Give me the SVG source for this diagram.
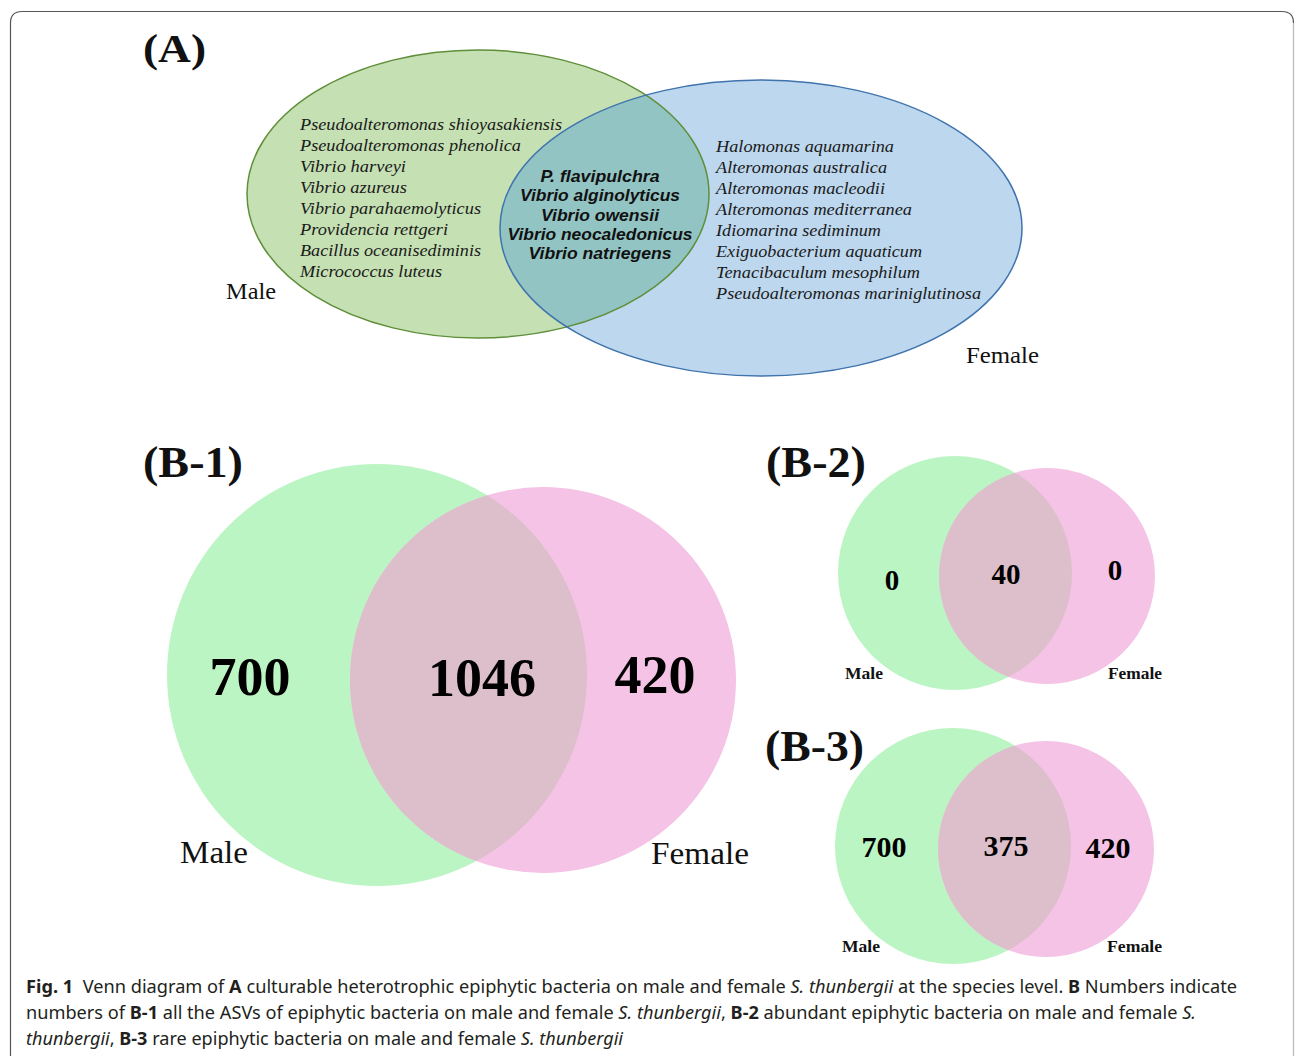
<svg xmlns="http://www.w3.org/2000/svg" width="1295" height="1056" viewBox="0 0 1295 1056">
<style>
.sp{font-family:"Liberation Serif",serif;font-style:italic;font-size:17px;fill:#1a1a1a}
.bi{font-family:"Liberation Sans",Arial,sans-serif;font-style:italic;font-weight:bold;font-size:17px;fill:#111;text-anchor:middle}
.lab{font-family:"Liberation Serif",serif;font-weight:bold;fill:#111}
.num{font-family:"Liberation Serif",serif;font-weight:bold;fill:#000;text-anchor:middle}
.sx{font-family:"Liberation Serif",serif;fill:#111}
.cap{font-family:"Noto Sans","Open Sans",sans-serif;font-size:18px;fill:#231f20}
.b{font-weight:bold}
.i{font-style:italic}
.g{fill:#bcf5c4}
.p{fill:#f5c3e6}
.o{fill:#dcbfcb}
</style>
<defs>
<clipPath id="cA"><ellipse cx="478" cy="194" rx="231" ry="144"/></clipPath>
<clipPath id="c1"><ellipse cx="377" cy="675" rx="210" ry="211"/></clipPath>
<clipPath id="c2"><circle cx="955" cy="573" r="117"/></clipPath>
<clipPath id="c3"><circle cx="953" cy="846" r="118"/></clipPath>
</defs>
<rect width="1295" height="1056" fill="#fff"/>
<path d="M1293.5 23 V1056" fill="none" stroke="#bbb" stroke-width="1.2"/>
<path d="M10.5 1056 V23 Q10.5 11.5 22 11.5 H1282 Q1293.5 11.5 1293.5 23" fill="none" stroke="#555" stroke-width="1.2"/>

<g id="panelA">
<text class="lab" x="143" y="62" font-size="41" textLength="63" lengthAdjust="spacingAndGlyphs">(A)</text>
<g id="A-male"><ellipse cx="478" cy="194" rx="231" ry="144" fill="#c5e0b3"/></g>
<g id="A-female"><ellipse cx="761" cy="228" rx="261" ry="148" fill="#bdd7ee"/></g>
<ellipse cx="761" cy="228" rx="261" ry="148" fill="#92c4c3" clip-path="url(#cA)"/>
<ellipse cx="478" cy="194" rx="231" ry="144" fill="none" stroke="#5f8f3a" stroke-width="1.5"/>
<ellipse cx="761" cy="228" rx="261" ry="148" fill="none" stroke="#3f73ad" stroke-width="1.5"/>
<g id="A-male-text">
<text class="sp" x="300" y="130" textLength="262" lengthAdjust="spacingAndGlyphs">Pseudoalteromonas shioyasakiensis</text>
<text class="sp" x="300" y="151" textLength="221" lengthAdjust="spacingAndGlyphs">Pseudoalteromonas phenolica</text>
<text class="sp" x="300" y="172" textLength="106" lengthAdjust="spacingAndGlyphs">Vibrio harveyi</text>
<text class="sp" x="300" y="193" textLength="107" lengthAdjust="spacingAndGlyphs">Vibrio azureus</text>
<text class="sp" x="300" y="214" textLength="181" lengthAdjust="spacingAndGlyphs">Vibrio parahaemolyticus</text>
<text class="sp" x="300" y="235" textLength="148" lengthAdjust="spacingAndGlyphs">Providencia rettgeri</text>
<text class="sp" x="300" y="256" textLength="181" lengthAdjust="spacingAndGlyphs">Bacillus oceanisediminis</text>
<text class="sp" x="300" y="277" textLength="142" lengthAdjust="spacingAndGlyphs">Micrococcus luteus</text>
</g>
<g id="A-shared-text">
<text class="bi" x="600" y="182" textLength="119" lengthAdjust="spacingAndGlyphs">P. flavipulchra</text>
<text class="bi" x="600" y="201" textLength="160" lengthAdjust="spacingAndGlyphs">Vibrio alginolyticus</text>
<text class="bi" x="600" y="221" textLength="118" lengthAdjust="spacingAndGlyphs">Vibrio owensii</text>
<text class="bi" x="600" y="240" textLength="185" lengthAdjust="spacingAndGlyphs">Vibrio neocaledonicus</text>
<text class="bi" x="600" y="259" textLength="143" lengthAdjust="spacingAndGlyphs">Vibrio natriegens</text>
</g>
<g id="A-female-text">
<text class="sp" x="716" y="152" textLength="178" lengthAdjust="spacingAndGlyphs">Halomonas aquamarina</text>
<text class="sp" x="716" y="173" textLength="171" lengthAdjust="spacingAndGlyphs">Alteromonas australica</text>
<text class="sp" x="716" y="194" textLength="169" lengthAdjust="spacingAndGlyphs">Alteromonas macleodii</text>
<text class="sp" x="716" y="215" textLength="196" lengthAdjust="spacingAndGlyphs">Alteromonas mediterranea</text>
<text class="sp" x="716" y="236" textLength="165" lengthAdjust="spacingAndGlyphs">Idiomarina sediminum</text>
<text class="sp" x="716" y="257" textLength="206" lengthAdjust="spacingAndGlyphs">Exiguobacterium aquaticum</text>
<text class="sp" x="716" y="278" textLength="204" lengthAdjust="spacingAndGlyphs">Tenacibaculum mesophilum</text>
<text class="sp" x="716" y="299" textLength="265" lengthAdjust="spacingAndGlyphs">Pseudoalteromonas mariniglutinosa</text>
</g>
<text class="sx" x="226" y="299" font-size="23" textLength="50" lengthAdjust="spacingAndGlyphs">Male</text>
<text class="sx" x="966" y="363" font-size="23" textLength="73" lengthAdjust="spacingAndGlyphs">Female</text>
</g>

<g id="panelB1">
<text class="lab" x="143" y="477" font-size="45" textLength="100" lengthAdjust="spacingAndGlyphs">(B-1)</text>
<g id="B1-male"><ellipse class="g" cx="377" cy="675" rx="210" ry="211"/></g>
<g id="B1-female"><circle class="p" cx="543" cy="680" r="193"/></g>
<circle class="o" cx="543" cy="680" r="193" clip-path="url(#c1)"/>
<text class="num" x="250" y="695" font-size="54">700</text>
<text class="num" x="482" y="696" font-size="54">1046</text>
<text class="num" x="655" y="693" font-size="54">420</text>
<text class="sx" x="180" y="863" font-size="32" textLength="68" lengthAdjust="spacingAndGlyphs">Male</text>
<text class="sx" x="651" y="864" font-size="32" textLength="98" lengthAdjust="spacingAndGlyphs">Female</text>
</g>

<g id="panelB2">
<text class="lab" x="766" y="477" font-size="45" textLength="100" lengthAdjust="spacingAndGlyphs">(B-2)</text>
<g id="B2-male"><circle class="g" cx="955" cy="573" r="117"/></g>
<g id="B2-female"><circle class="p" cx="1047" cy="576" r="108"/></g>
<circle class="o" cx="1047" cy="576" r="108" clip-path="url(#c2)"/>
<text class="num" x="892" y="590" font-size="29">0</text>
<text class="num" x="1006" y="584" font-size="29">40</text>
<text class="num" x="1115" y="580" font-size="29">0</text>
<text class="sx" x="845" y="679" font-size="17" font-weight="600" textLength="38" lengthAdjust="spacingAndGlyphs">Male</text>
<text class="sx" x="1108" y="679" font-size="17" font-weight="600" textLength="54" lengthAdjust="spacingAndGlyphs">Female</text>
</g>

<g id="panelB3">
<text class="lab" x="765" y="761" font-size="45" textLength="99" lengthAdjust="spacingAndGlyphs">(B-3)</text>
<g id="B3-male"><circle class="g" cx="953" cy="846" r="118"/></g>
<g id="B3-female"><circle class="p" cx="1046" cy="849" r="108"/></g>
<circle class="o" cx="1046" cy="849" r="108" clip-path="url(#c3)"/>
<text class="num" x="884" y="857" font-size="30">700</text>
<text class="num" x="1006" y="856" font-size="30">375</text>
<text class="num" x="1108" y="858" font-size="30">420</text>
<text class="sx" x="842" y="952" font-size="17" font-weight="600" textLength="38" lengthAdjust="spacingAndGlyphs">Male</text>
<text class="sx" x="1107" y="952" font-size="17" font-weight="600" textLength="55" lengthAdjust="spacingAndGlyphs">Female</text>
</g>

<g id="caption">
<text class="cap" x="26" y="993" textLength="1211" lengthAdjust="spacingAndGlyphs"><tspan class="b">Fig. 1</tspan>&#160; Venn diagram of <tspan class="b">A</tspan> culturable heterotrophic epiphytic bacteria on male and female <tspan class="i">S. thunbergii</tspan> at the species level. <tspan class="b">B</tspan> Numbers indicate</text>
<text class="cap" x="26" y="1019" textLength="1170" lengthAdjust="spacingAndGlyphs">numbers of <tspan class="b">B-1</tspan> all the ASVs of epiphytic bacteria on male and female <tspan class="i">S. thunbergii</tspan>, <tspan class="b">B-2</tspan> abundant epiphytic bacteria on male and female <tspan class="i">S.</tspan></text>
<text class="cap" x="26" y="1045" textLength="597" lengthAdjust="spacingAndGlyphs"><tspan class="i">thunbergii</tspan>, <tspan class="b">B-3</tspan> rare epiphytic bacteria on male and female <tspan class="i">S. thunbergii</tspan></text>
</g>
</svg>
